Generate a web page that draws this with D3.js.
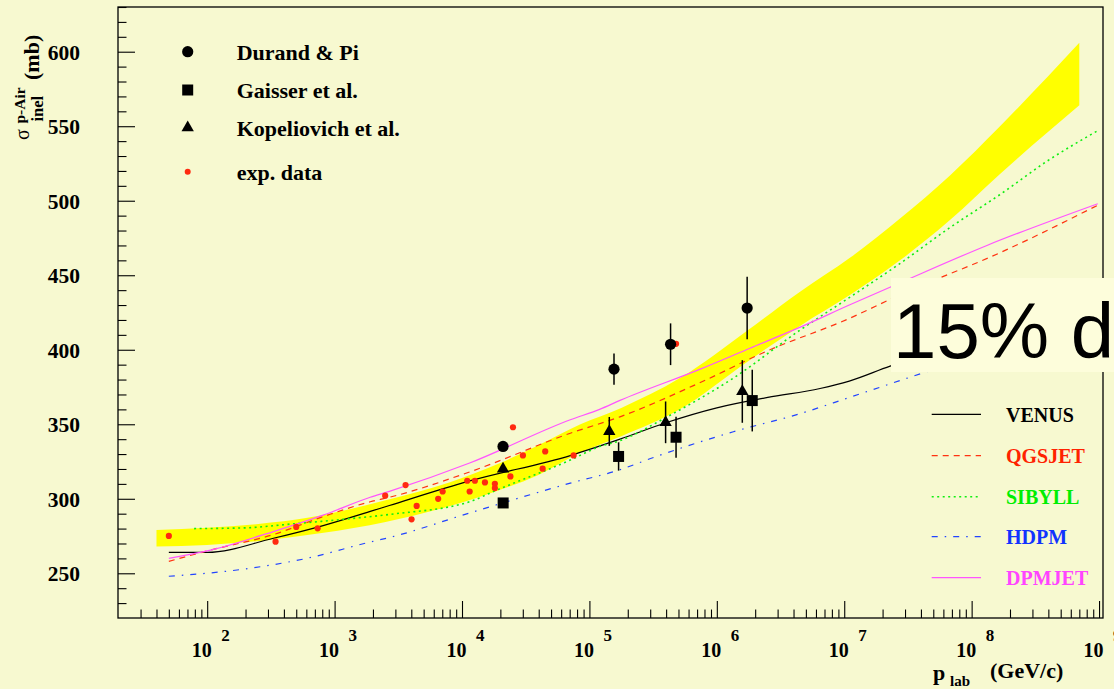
<!DOCTYPE html>
<html><head><meta charset="utf-8">
<script src="https://cdn.jsdelivr.net/npm/d3@7"></script>
<style>html,body{margin:0;padding:0;background:#f7f9d0;} svg{display:block}</style>
</head><body><svg id="c" width="1114" height="689"></svg>
<script>
// ---------- data ----------
const bandP    = [40, 100, 316, 794, 2512, 7943, 19953, 39811, 85114, 177828, 512861, 1.738e6, 4.5e6, 1.122e7, 2.74e7, 6.76e7, 1.67e8, 7.0e8];
const bandLow  = [268, 269, 272.5, 277, 284.5, 295, 306, 316, 331, 342, 360, 392, 416, 437, 460, 487, 518, 564];
const bandHigh = [279, 280.5, 284, 289, 299, 311, 324, 336, 350, 361, 381, 413, 439, 462, 488, 517, 550, 606];

const venusP = [50, 100, 331, 813, 1905, 2692, 11482, 70795, 173780, 398107, 1e6, 2.512e6, 6.457e6, 1.096e7, 2.291e7, 1e8];
const venusV = [264, 264, 273.5, 282, 291.5, 295.5, 312, 329, 340, 351, 361, 368, 374, 379, 389, 405];

const qgsP = [50, 100, 331, 813, 1905, 2692, 11482, 70795, 173780, 741310, 2.455e6, 1.096e7, 2.754e7, 1.66e8, 9.77e8];
const qgsV = [258, 265, 276, 288, 298, 301, 318, 344, 355, 378, 399, 421, 437, 465, 497];

const sibP = [79, 200, 447, 1096, 2692, 11482, 17783, 70795, 120226, 173780, 407380, 1.349e6, 4.467e6, 1.096e7, 2.754e7, 6.761e7, 1.66e8, 3.981e8, 9.77e8];
const sibV = [280, 280.5, 283, 286, 289.5, 298, 305, 326, 335, 339, 355, 381, 413, 435, 458, 482, 504, 527, 547];

const hdpmP = [50, 182, 603, 1905, 2692, 11482, 70795, 173780, 301995, 1.349e6, 4.467e6, 1.096e7, 4.169e7, 9.77e8];
const hdpmV = [248, 252.5, 260, 271, 274, 290.5, 310.5, 319.5, 327, 345, 357, 368, 384.5, 422];

const dpmP = [50, 100, 331, 813, 1905, 2692, 11482, 70795, 120226, 173780, 741310, 1.82e6, 4.467e6, 1.096e7, 2.754e7, 1.318e8, 9.77e8];
const dpmV = [260, 265, 278, 289, 301, 305, 324, 353, 360, 366, 387, 401, 415, 430, 445, 470, 498];

const expP = [50, 344, 500, 736, 2495, 3606, 4018, 4406, 6501, 7047, 10990, 11482, 12620, 15136, 18113, 18113, 23988, 25119, 30061, 42954, 44978, 75162, 478630];
const expV = [275.1, 271.2, 281.1, 280.2, 302.1, 309.2, 286.2, 295.2, 300, 304.9, 312.1, 304.9, 312.1, 311, 310.1, 307.2, 315, 348, 329.1, 320.2, 331.8, 329.1, 404];

const durandP = [20989, 155955, 433511, 1.73e6];
const durandV = [335.1, 387, 403.7, 428];
const durandE = [0, 10.5, 14, 21];

const gaisserP = [21038, 169434, 478630, 1.897e6];
const gaisserV = [297.2, 328.4, 341.3, 365.9];
const gaisserE = [0, 9.5, 13.7, 20.7];

const kopP = [20989, 143219, 396278, 1.585e6];
const kopV = [320, 345.2, 351.3, 372];
const kopE = [0, 9.7, 14, 21];

const yMajor = [250, 300, 350, 400, 450, 500, 550, 600];
const xExponents = ["2", "3", "4", "5", "6", "7", "8", "9"];
const xMajor = [1e2, 1e3, 1e4, 1e5, 1e6, 1e7, 1e8, 1e9];

const topLegend = ["Durand & Pi", "Gaisser et al.", "Kopeliovich et al.", "exp. data"];
const modelNames = ["VENUS", "QGSJET", "SIBYLL", "HDPM", "DPMJET"];
const modelColors = ["#000000", "#ff3311", "#11ee11", "#2244ff", "#ff55ff"];
const modelText = ["#000000", "#ff2200", "#00ee00", "#1133ff", "#ff44ff"];
const modelDash = [null, "6,5", "2,3.5", "6,7,1.5,7", null];

// ---------- scales ----------
const svg = d3.select("#c");
const W = 1114, H = 689;
const L = 118, R = 1103, T = 7, B = 618;
const x = d3.scaleLog().domain([Math.pow(10, 1.3), Math.pow(10, 9.031)]).range([L, R]);
const y = d3.scaleLinear().domain([220, 630]).range([B, T]);

svg.append("rect").attr("width", W).attr("height", H).attr("fill", "#f7f9d0");

const serif = "'Liberation Serif','Times New Roman',serif";

// band
const band = bandP.map((p, i) => ({p, lo: bandLow[i], hi: bandHigh[i]}));
svg.append("path").datum(band)
  .attr("d", d3.area().x(d => x(d.p)).y0(d => y(d.lo)).y1(d => y(d.hi)).curve(d3.curveMonotoneX))
  .attr("fill", "#ffff00");

// model lines
const models = [[venusP, venusV], [qgsP, qgsV], [sibP, sibV], [hdpmP, hdpmV], [dpmP, dpmV]];
const lineGen = d3.line().x(d => x(d[0])).y(d => y(d[1])).curve(d3.curveMonotoneX);
models.forEach((m, i) => {
  const pts = m[0].map((p, j) => [p, m[1][j]]);
  const path = svg.append("path").datum(pts).attr("d", lineGen)
    .attr("fill", "none").attr("stroke", modelColors[i])
    .attr("stroke-width", i === 2 ? 1.6 : 1.2);
  if (modelDash[i]) path.attr("stroke-dasharray", modelDash[i]);
});

// exp data
svg.append("g").selectAll("circle").data(expP).join("circle")
  .attr("cx", d => x(d)).attr("cy", (d, i) => y(expV[i])).attr("r", 3.1).attr("fill", "#ff2a10");

// error bars + markers
function errBars(P, V, E) {
  svg.append("g").selectAll("line").data(P).join("line")
    .attr("x1", d => x(d)).attr("x2", d => x(d))
    .attr("y1", (d, i) => y(V[i] - E[i])).attr("y2", (d, i) => y(V[i] + E[i]))
    .attr("stroke", "#000").attr("stroke-width", 1.5);
}
errBars(durandP, durandV, durandE);
errBars(gaisserP, gaisserV, gaisserE);
errBars(kopP, kopV, kopE);

const circ = d3.symbol().type(d3.symbolCircle).size(Math.PI * 5.6 * 5.6);
const sq = d3.symbol().type(d3.symbolSquare).size(11 * 11);
const tri = d3.symbol().type(d3.symbolTriangle).size(66);

svg.append("g").selectAll("path").data(durandP).join("path")
  .attr("transform", (d, i) => `translate(${x(d)},${y(durandV[i])})`).attr("d", circ).attr("fill", "#000");
svg.append("g").selectAll("path").data(gaisserP).join("path")
  .attr("transform", (d, i) => `translate(${x(d)},${y(gaisserV[i])})`).attr("d", sq).attr("fill", "#000");
svg.append("g").selectAll("path").data(kopP).join("path")
  .attr("transform", (d, i) => `translate(${x(d)},${y(kopV[i])})`).attr("d", tri).attr("fill", "#000");

// ---------- axes ----------
const yMinor = d3.range(230, 631, 10).filter(v => v % 50 !== 0);
const yAxMaj = d3.axisRight(y).tickValues(yMajor).tickSize(17).tickFormat("");
const yAxMin = d3.axisRight(y).tickValues(yMinor).tickSize(8.5).tickFormat("");
[yAxMaj, yAxMin].forEach(a => {
  const g = svg.append("g").attr("transform", `translate(${L},0)`).call(a);
  g.select(".domain").remove();
  g.selectAll("line").attr("stroke", "#000").attr("stroke-width", 1.1);
});
const xMinor = [];
[10, 1e2, 1e3, 1e4, 1e5, 1e6, 1e7, 1e8].forEach(dec => { for (let k = 2; k <= 9; k++) { const v = k * dec; if (v > 20.5 && v < 1.07e9) xMinor.push(v); } });
const xAxMaj = d3.axisTop(x).tickValues(xMajor).tickSize(17).tickFormat("");
const xAxMin = d3.axisTop(x).tickValues(xMinor).tickSize(8.5).tickFormat("");
[xAxMaj, xAxMin].forEach(a => {
  const g = svg.append("g").attr("transform", `translate(0,${B})`).call(a);
  g.select(".domain").remove();
  g.selectAll("line").attr("stroke", "#000").attr("stroke-width", 1.1);
});

// frame
svg.append("rect").attr("x", L).attr("y", T).attr("width", R - L).attr("height", B - T)
  .attr("fill", "none").attr("stroke", "#000").attr("stroke-width", 1.3);

// y tick labels
svg.append("g").selectAll("text").data(yMajor).join("text")
  .attr("x", 80).attr("y", d => y(d) + 8).attr("text-anchor", "end")
  .attr("font-family", serif).attr("font-weight", "bold").attr("font-size", 21.5)
  .text(d => d);

// x tick labels
const xl = svg.append("g");
xl.selectAll("text.b").data(xMajor).join("text").attr("class", "b")
  .attr("x", d => x(d) + 4.5).attr("y", 656.5).attr("text-anchor", "end")
  .attr("font-family", serif).attr("font-weight", "bold").attr("font-size", 20).text("10");
xl.selectAll("text.e").data(xMajor).join("text").attr("class", "e")
  .attr("x", d => x(d) + 14).attr("y", 640.5)
  .attr("font-family", serif).attr("font-weight", "bold").attr("font-size", 17)
  .text((d, i) => xExponents[i]);

// axis titles
const yt = svg.append("g").attr("font-family", serif);
yt.append("text").attr("transform", "translate(29.3,140) rotate(-90)").attr("font-size", 20).text("σ");
yt.append("text").attr("transform", "translate(25,123.5) rotate(-90)").attr("font-size", 15.5).attr("font-weight", "bold").text("p-Air");
yt.append("text").attr("transform", "translate(42.5,121.5) rotate(-90)").attr("font-size", 16.5).attr("font-weight", "bold").text("inel");
yt.append("text").attr("transform", "translate(38.5,80) rotate(-90)").attr("font-size", 22).attr("font-weight", "bold").text("(mb)");

const xt = svg.append("g").attr("font-family", serif).attr("font-weight", "bold");
xt.append("text").attr("x", 933).attr("y", 680).attr("font-size", 22).text("p");
xt.append("text").attr("x", 950).attr("y", 686).attr("font-size", 15).text("lab");
xt.append("text").attr("x", 990).attr("y", 678).attr("font-size", 22).text("(GeV/c)");

// top legend
const tlY = [51.7, 90, 127.7, 171.7];
const tl = svg.append("g");
tl.append("path").attr("transform", `translate(187.7,${tlY[0]})`).attr("d", circ).attr("fill", "#000");
tl.append("path").attr("transform", `translate(187.7,${tlY[1]})`).attr("d", sq).attr("fill", "#000");
tl.append("path").attr("transform", `translate(187.7,${tlY[2]})`).attr("d", tri).attr("fill", "#000");
tl.append("circle").attr("cx", 187.7).attr("cy", tlY[3]).attr("r", 3).attr("fill", "#ff2a10");
tl.selectAll("text").data(topLegend).join("text")
  .attr("x", 236.7).attr("y", (d, i) => tlY[i] + 8.3)
  .attr("font-family", serif).attr("font-weight", "bold").attr("font-size", 22).text(d => d);

// right legend
const rlY = [414.3, 455.7, 496.7, 536.7, 577.7];
const rl = svg.append("g");
modelNames.forEach((n, i) => {
  const ln = rl.append("line").attr("x1", 931.7).attr("x2", 981).attr("y1", rlY[i]).attr("y2", rlY[i])
    .attr("stroke", modelColors[i]).attr("stroke-width", i === 2 ? 1.6 : 1.2);
  if (modelDash[i]) ln.attr("stroke-dasharray", modelDash[i]);
  rl.append("text").attr("x", 1006).attr("y", rlY[i] + 7.4)
    .attr("font-family", serif).attr("font-weight", "bold").attr("font-size", 20)
    .attr("fill", modelText[i]).text(n);
});

// overlay box
svg.append("rect").attr("x", 891).attr("y", 278).attr("width", 230).attr("height", 94).attr("fill", "#fdfddb");
svg.append("text").attr("x", 893).attr("y", 358).attr("font-family", "'Liberation Sans',Arial,sans-serif")
  .attr("font-size", 78).attr("fill", "#000").text("15% d");
</script></body></html>
